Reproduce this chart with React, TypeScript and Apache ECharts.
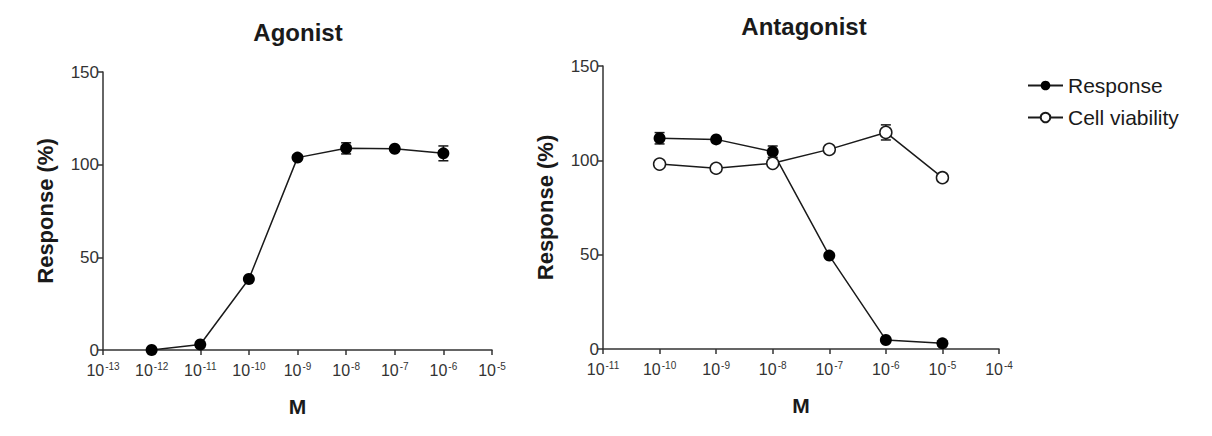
import React, { useEffect, useRef } from "react";
import * as echarts from "echarts";

// log10 molar concentrations
const agonistX = [-12, -11, -10, -9, -8, -7, -6];
const agonistY = [0, 3, 38.3, 103.8, 108.8, 108.6, 106.1];
const agonistErr = [0, 0, 0, 0, 3, 1, 4];

const antagX = [-10, -9, -8, -7, -6, -5];
const responseY = [111.7, 111.1, 104.6, 49.5, 4.8, 3];
const responseErr = [3, 1, 3, 0, 0, 0];
const viabilityY = [98, 95.8, 98.4, 105.8, 114.8, 90.8];
const viabilityErr = [0, 0, 0, 0, 4, 0];

const leftTicks = { min: -13, max: -5 };
const rightTicks = { min: -11, max: -4 };
const yTicks = { min: 0, max: 150, interval: 50 };

const INK = "#1a1a1a";
const FONT = "'Liberation Sans', Arial, sans-serif";

function pts(xs: number[], ys: number[]) {
  return xs.map((x, i) => [x, ys[i]]);
}
function errs(xs: number[], ys: number[], es: number[]) {
  return xs
    .map((x, i) => [x, ys[i] - es[i], ys[i] + es[i]])
    .filter((_, i) => es[i] > 0);
}

const errRender = (params: any, api: any) => {
  const x = api.value(0);
  const lo = api.coord([x, api.value(1)]);
  const hi = api.coord([x, api.value(2)]);
  const w = 5;
  const st = { stroke: INK, lineWidth: 1.5 };
  return {
    type: "group",
    children: [
      { type: "line", shape: { x1: lo[0], y1: lo[1], x2: hi[0], y2: hi[1] }, style: st },
      { type: "line", shape: { x1: lo[0] - w, y1: lo[1], x2: lo[0] + w, y2: lo[1] }, style: st },
      { type: "line", shape: { x1: hi[0] - w, y1: hi[1], x2: hi[0] + w, y2: hi[1] }, style: st },
    ],
  };
};

const xLabel = {
  color: "#333",
  fontFamily: FONT,
  margin: 11,
  formatter: (v: number) => `{b|10}{s|${v}}`,
  rich: {
    b: { fontSize: 16, fontFamily: FONT, color: "#333" },
    s: { fontSize: 10, fontFamily: FONT, color: "#333", padding: [0, 0, 8, 1] },
  },
};

function xAxis(idx: number, r: { min: number; max: number }) {
  return {
    type: "value",
    gridIndex: idx,
    min: r.min,
    max: r.max,
    interval: 1,
    name: "M",
    nameLocation: "middle",
    nameGap: 46,
    nameTextStyle: { fontSize: 21, fontWeight: "bold", color: INK, fontFamily: FONT },
    axisLine: { lineStyle: { color: "#333", width: 1.5 } },
    axisTick: { inside: false, length: 5, lineStyle: { color: "#333", width: 1.5 } },
    splitLine: { show: false },
    axisLabel: xLabel,
  };
}

function yAxis(idx: number) {
  return {
    type: "value",
    gridIndex: idx,
    ...yTicks,
    name: "Response (%)",
    nameLocation: "middle",
    nameGap: 47,
    nameTextStyle: { fontSize: 22, fontWeight: "bold", color: INK, fontFamily: FONT },
    axisLine: { show: true, lineStyle: { color: "#333", width: 1.5 } },
    axisTick: { show: true, inside: false, length: 5, lineStyle: { color: "#333", width: 1.5 } },
    splitLine: { show: false },
    axisLabel: { color: "#333", fontSize: 17, fontFamily: FONT, margin: 4 },
  };
}

export default function App() {
  const ref = useRef<HTMLDivElement>(null);
  useEffect(() => {
    if (!ref.current) return;
    const chart = echarts.init(ref.current, undefined, { renderer: "svg" });
    chart.setOption({
      animation: false,
      backgroundColor: "#fff",
      title: [
        {
          text: "Agonist",
          left: 285,
          top: 7,
          textAlign: "center",
          textStyle: { fontSize: 24, fontWeight: "bold", color: INK, fontFamily: FONT },
        },
        {
          text: "Antagonist",
          left: 791,
          top: 1,
          textAlign: "center",
          textStyle: { fontSize: 24, fontWeight: "bold", color: INK, fontFamily: FONT },
        },
      ],
      legend: {
        data: ["Response", "Cell viability"],
        orient: "vertical",
        left: 1014,
        top: 62,
        itemWidth: 35,
        itemHeight: 12,
        itemGap: 11,
        textStyle: { fontSize: 21, color: INK, fontFamily: FONT },
      },
      grid: [
        { left: 95, top: 64, width: 389, height: 278 },
        { left: 595, top: 58, width: 396, height: 283 },
      ],
      xAxis: [xAxis(0, leftTicks), xAxis(1, rightTicks)],
      yAxis: [yAxis(0), yAxis(1)],
      series: [
        {
          type: "custom",
          name: "agErr",
          xAxisIndex: 0,
          yAxisIndex: 0,
          renderItem: errRender,
          data: errs(agonistX, agonistY, agonistErr),
          z: 1,
        },
        {
          type: "line",
          name: "Agonist",
          xAxisIndex: 0,
          yAxisIndex: 0,
          data: pts(agonistX, agonistY),
          symbol: "circle",
          symbolSize: 12,
          lineStyle: { color: INK, width: 1.5 },
          itemStyle: { color: "#000" },
          z: 3,
        },
        {
          type: "custom",
          name: "respErr",
          xAxisIndex: 1,
          yAxisIndex: 1,
          renderItem: errRender,
          data: errs(antagX, responseY, responseErr),
          z: 1,
        },
        {
          type: "custom",
          name: "viaErr",
          xAxisIndex: 1,
          yAxisIndex: 1,
          renderItem: errRender,
          data: errs(antagX, viabilityY, viabilityErr),
          z: 1,
        },
        {
          type: "line",
          name: "Response",
          xAxisIndex: 1,
          yAxisIndex: 1,
          data: pts(antagX, responseY),
          symbol: "circle",
          symbolSize: 12,
          lineStyle: { color: INK, width: 1.5 },
          itemStyle: { color: "#000" },
          z: 3,
        },
        {
          type: "line",
          name: "Cell viability",
          xAxisIndex: 1,
          yAxisIndex: 1,
          data: pts(antagX, viabilityY),
          symbol: "circle",
          symbolSize: 12,
          lineStyle: { color: INK, width: 1.5 },
          itemStyle: { color: "#fff", borderColor: INK, borderWidth: 1.5 },
          z: 4,
        },
      ],
    });
    return () => chart.dispose();
  }, []);
  return <div ref={ref} style={{ width: 1196, height: 420 }} />;
}
